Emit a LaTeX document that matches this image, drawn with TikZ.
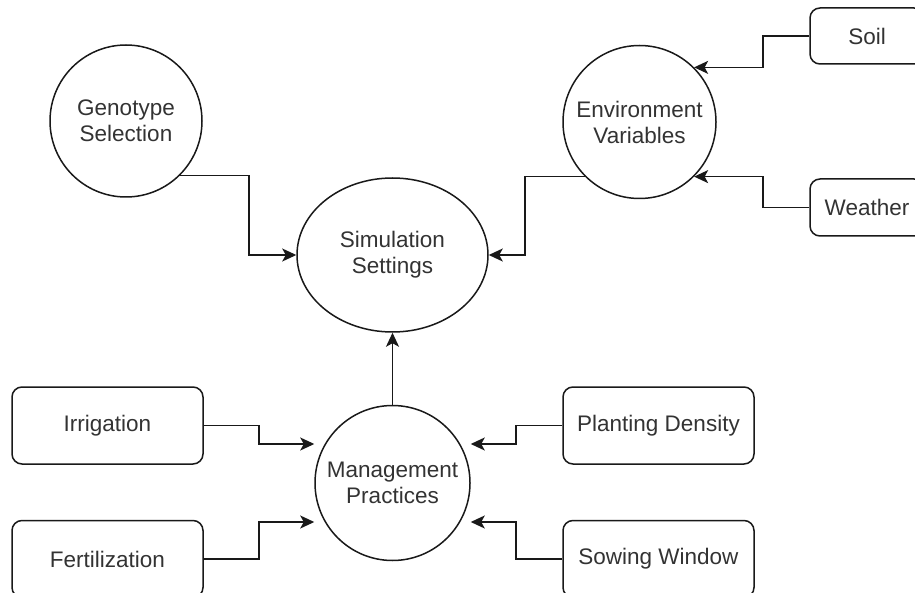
\documentclass[tikz,border=0pt]{standalone}
\usepackage{fontspec}
\setmainfont{Liberation Sans}
\usetikzlibrary{shapes.geometric,arrows.meta}
\begin{document}
\begin{tikzpicture}[x=1pt,y=-1pt,
  lbl/.style={font=\fontsize{22.5}{26}\selectfont, text=black!80, align=center, inner sep=0pt},
  circ/.style={lbl, draw=black!90, line width=1.5pt, circle, minimum size=#1},
  oval/.style={lbl, draw=black!90, line width=1.5pt, ellipse, minimum width=191pt, minimum height=154pt},
  rbox/.style={lbl, draw=black!90, line width=1.5pt, rounded corners=10pt, minimum width=#1, minimum height=77pt},
  arr/.style={draw=black!90, line width=1.5pt, -{Stealth[length=14pt,width=13pt,inset=3.5pt]}}
]
\fill[white] (0,0) rectangle (915,593);
\useasboundingbox (0,0) rectangle (915,593);
\clip (0,0) rectangle (915,593);

% nodes
\node[circ=152pt] (gs) at (126,121) {Genotype\\Selection};
\node[circ=153pt] (ev) at (639.5,122) {Environment\\Variables};
\node[oval] (ss) at (392.5,255) {Simulation\\Settings};
\node[circ=155pt] (mp) at (392.5,483) {Management\\Practices};
\node[rbox=114pt, minimum height=56pt] (soil) at (867,36) {Soil};
\node[rbox=114pt, minimum height=57pt] (weather) at (867,207.5) {Weather};
\node[rbox=191pt] (irr) at (107.5,425.5) {Irrigation};
\node[rbox=191pt] (fert) at (107.5,559) {Fertilization};
\node[rbox=191pt] (pd) at (658.5,425.5) {Planting Density};
\node[rbox=191pt] (sw) at (658.5,559) {Sowing Window};

% helper coordinates
\coordinate (x249) at (249,0);
\coordinate (x525) at (525,0);
\coordinate (x763) at (763,0);
\coordinate (x259) at (259,0);
\coordinate (x516) at (516,0);
\coordinate (ml1) at ([yshift=39pt]mp.west);
\coordinate (ml2) at ([yshift=-39pt]mp.west);
\coordinate (mr1) at ([yshift=39pt]mp.east);
\coordinate (mr2) at ([yshift=-39pt]mp.east);

% connectors
\draw[arr] (gs.south east) -| (ss.west -| x249) -- (ss.west);
\draw[arr] (ev.south west) -| (ss.east -| x525) -- (ss.east);
\draw[arr] (soil.west) -| (ev.north east -| x763) -- (ev.north east);
\draw[arr] (weather.west) -| (ev.south east -| x763) -- (ev.south east);
\draw[arr] (irr.east) -| (ml1 -| x259) -- (ml1);
\draw[arr] (fert.east) -| (ml2 -| x259) -- (ml2);
\draw[arr] (pd.west) -| (mr1 -| x516) -- (mr1);
\draw[arr] (sw.west) -| (mr2 -| x516) -- (mr2);
\draw[arr] (mp.north) -- (ss.south);
\end{tikzpicture}
\end{document}
